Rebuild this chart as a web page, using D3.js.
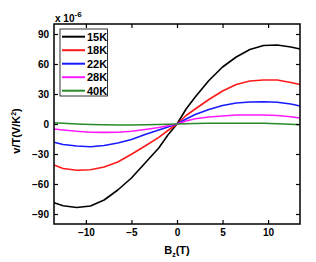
<!DOCTYPE html>
<html>
<head>
<meta charset="utf-8">
<script src="https://cdn.jsdelivr.net/npm/d3@7"></script>
<style>
  body { margin: 0; background: #fff; }
  text { font-family: "Liberation Sans", Arial, sans-serif; font-weight: bold; }
</style>
</head>
<body>
<div id="chart"></div>
<script>
// Chart size
const width = 316;
const height = 262;
const margin = { top: 24, right: 16, bottom: 38, left: 54 };

// Data (values in units of 1e-6 V/K^2)
const fieldB = [-13.5, -12.5, -11, -9.5, -8, -6.5, -5, -3.5, -2, -1, 0, 1, 2, 3.5, 5, 6.5, 8, 9.5, 11, 12.5, 13.5];
const seriesNames = ['15K', '18K', '22K', '28K', '40K'];
const seriesColours = ['#000000', '#ff1a1a', '#1a1aff', '#ff1aff', '#2a8a2a'];
const v15 = [-78.7, -81.7, -83.5, -82, -76, -66, -54, -39, -24, -11, 0, 15, 27, 43.5, 57, 67, 74.5, 78.5, 79, 77, 75];
const v18 = [-41, -44.5, -46.3, -45.8, -43, -38, -30.3, -22, -13.3, -6.5, 0, 8.5, 15, 24.5, 33, 39.5, 43, 44, 44, 41.5, 39.5];
const v22 = [-18.3, -20.5, -22, -22.7, -21.5, -19, -15.5, -10.5, -6, -3, 0, 5, 9.5, 14.5, 18.5, 21, 22, 22.3, 21.8, 20, 18];
const v28 = [-5, -6, -7.3, -8.2, -8.4, -8.2, -7.2, -5.5, -3.5, -1.8, 0, 3, 5.3, 7, 8, 9, 9, 9, 8.5, 7.2, 6];
const v40 = [1.3, 0.7, 0, -0.5, -0.8, -1, -1, -0.8, -0.5, -0.3, 0, 0.3, 0.5, 0.7, 0.8, 0.8, 0.8, 0.7, 0.3, -0.2, -0.7];
const seriesValues = [v15, v18, v22, v28, v40];

const xTicks = [-10, -5, 0, 5, 10];
const yTicks = [-90, -60, -30, 0, 30, 60, 90];

const svg = d3.select('#chart').append('svg')
    .attr('width', width)
    .attr('height', height);

const x = d3.scaleLinear()
    .domain([-13.5, 13.5])
    .range([margin.left, width - margin.right]);

const y = d3.scaleLinear()
    .domain([-100, 100])
    .range([height - margin.bottom, margin.top]);

// Curves
const line = d3.line()
    .x((d, i) => x(fieldB[i]))
    .y(d => y(d));

const plot = svg.append('g');
seriesValues.forEach((vals, i) => {
    plot.append('path')
        .datum(vals)
        .attr('fill', 'none')
        .attr('stroke', seriesColours[i])
        .attr('stroke-width', 1.6)
        .attr('stroke-linejoin', 'round')
        .attr('d', line);
});

// Axes (ticks pointing inward)
const bottom = svg.append('g')
    .attr('transform', `translate(0,${y.range()[0]})`)
    .call(d3.axisBottom(x).tickValues(xTicks).tickSize(-4).tickPadding(5));
const left = svg.append('g')
    .attr('transform', `translate(${x.range()[0]},0)`)
    .call(d3.axisLeft(y).tickValues(yTicks).tickSize(-4).tickPadding(5));
svg.append('g')
    .attr('transform', `translate(0,${y.range()[1]})`)
    .call(d3.axisTop(x).tickValues(xTicks).tickSize(-4).tickFormat(''));
svg.append('g')
    .attr('transform', `translate(${x.range()[1]},0)`)
    .call(d3.axisRight(y).tickValues(yTicks).tickSize(-4).tickFormat(''));

svg.selectAll('.domain').remove();
svg.selectAll('.tick line').attr('stroke', '#000').attr('stroke-width', 1.2);
svg.selectAll('.tick text')
    .attr('fill', '#000')
    .style('font-size', '10px');

// Frame
svg.append('rect')
    .attr('x', x.range()[0])
    .attr('y', y.range()[1])
    .attr('width', x.range()[1] - x.range()[0])
    .attr('height', y.range()[0] - y.range()[1])
    .attr('fill', 'none')
    .attr('stroke', '#000')
    .attr('stroke-width', 1.5);

// Multiplier label
const mult = svg.append('text')
    .attr('x', 55)
    .attr('y', 22)
    .style('font-size', '10px');
mult.append('tspan').text('x 10');
mult.append('tspan').attr('dy', -5).style('font-size', '8px').text('-6');

// Axis titles
const xTitle = svg.append('text')
    .attr('x', x(0))
    .attr('y', 254)
    .attr('text-anchor', 'middle')
    .style('font-size', '11px');
xTitle.append('tspan').text('B');
xTitle.append('tspan').attr('dy', 3).style('font-size', '7px').text('z');
xTitle.append('tspan').attr('dy', -3).text('(T)');

const yTitle = svg.append('text')
    .attr('transform', 'translate(20,131) rotate(-90)')
    .attr('text-anchor', 'middle')
    .style('font-size', '11px');
yTitle.append('tspan').text('v/T(V/K');
yTitle.append('tspan').attr('dy', -4).style('font-size', '7px').text('2');
yTitle.append('tspan').attr('dy', 4).text(')');

// Legend
const legend = svg.append('g');
legend.append('rect')
    .attr('x', 60)
    .attr('y', 29)
    .attr('width', 47.5)
    .attr('height', 67)
    .attr('fill', '#fff')
    .attr('stroke', '#000')
    .attr('stroke-width', 0.8);

seriesNames.forEach((name, i) => {
    const ly = 36.7 + i * 13.5;
    legend.append('line')
        .attr('x1', 62).attr('x2', 85)
        .attr('y1', ly).attr('y2', ly)
        .attr('stroke', seriesColours[i])
        .attr('stroke-width', 2);
    legend.append('text')
        .attr('x', 87)
        .attr('y', ly + 4)
        .style('font-size', '11px')
        .text(name);
});
</script>
</body>
</html>
